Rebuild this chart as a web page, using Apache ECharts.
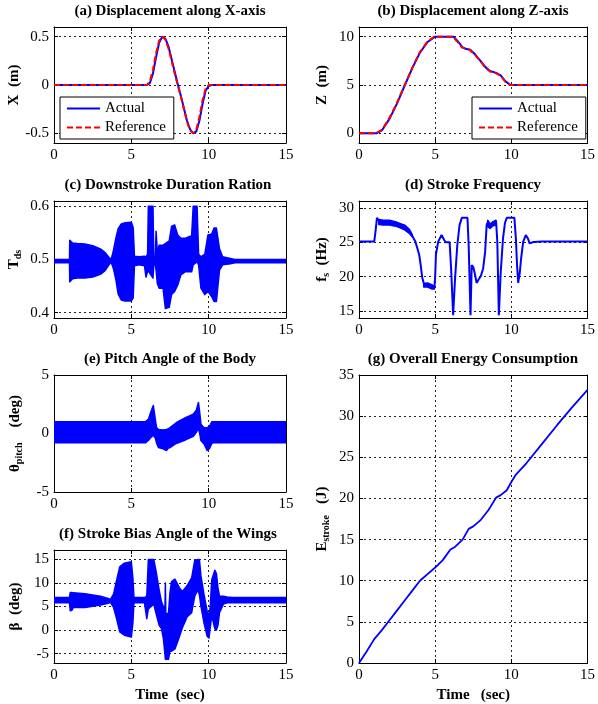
<!DOCTYPE html>
<html>
<head>
<meta charset="utf-8">
<script src="https://cdn.jsdelivr.net/npm/echarts@6/dist/echarts.min.js"></script>
<style>
  html, body { margin: 0; padding: 0; background: #fff; }
  #chart { width: 598px; height: 704px; }
</style>
</head>
<body>
<div id="chart"></div>
<script>
// ---- data: [time (s), value] ----
const xActual = [[0,0],[6.0,0],[6.2,0.02],[6.4,0.12],[6.6,0.29],[6.8,0.44],[7.0,0.5],[7.2,0.48],[7.4,0.40],[7.6,0.27],[7.8,0.14],[8.0,0.01],[8.2,-0.11],[8.4,-0.24],[8.6,-0.37],[8.8,-0.46],[9.0,-0.5],[9.2,-0.48],[9.4,-0.37],[9.6,-0.2],[9.8,-0.06],[10.0,-0.01],[10.2,0],[15,0]];
const xReference = [[0,0],[6.0,0],[6.2,0.04],[6.4,0.16],[6.6,0.33],[6.8,0.46],[7.0,0.5],[7.2,0.47],[7.4,0.38],[7.6,0.25],[7.8,0.12],[8.0,0],[8.2,-0.12],[8.4,-0.25],[8.6,-0.38],[8.8,-0.47],[9.0,-0.5],[9.2,-0.46],[9.4,-0.33],[9.6,-0.16],[9.8,-0.04],[10.0,0],[15,0]];

const zActual = [[0,0],[1.15,0],[1.5,0.3],[2.0,1.5],[2.5,3.1],[3.0,4.95],[3.5,6.75],[4.0,8.35],[4.5,9.45],[5.0,10],[6.2,10],[6.5,9.5],[6.8,8.9],[7.0,8.75],[7.3,8.65],[7.6,8.2],[8.0,7.45],[8.3,6.85],[8.6,6.45],[9.0,6.25],[9.3,6.0],[9.6,5.4],[9.9,5.05],[10.05,5.0],[15,5.0]];
const zReference = [[0,0],[1.1,0],[1.5,0.35],[2.0,1.6],[2.5,3.2],[3.0,5.0],[3.5,6.8],[4.0,8.4],[4.5,9.5],[4.95,10],[6.15,10],[6.45,9.5],[6.75,8.9],[7.0,8.75],[7.25,8.65],[7.6,8.15],[8.0,7.4],[8.3,6.8],[8.6,6.4],[9.0,6.2],[9.3,5.95],[9.6,5.35],[9.9,5.0],[15,5.0]];

// oscillating signals given as [time, lower envelope, upper envelope]
const tdsBand = [[0,0.494,0.500],[1.0,0.494,0.500],[1.02,0.458,0.536],[1.2,0.464,0.531],[1.5,0.465,0.530],[2.0,0.465,0.529],[2.5,0.467,0.526],[3.0,0.472,0.520],[3.3,0.479,0.513],[3.55,0.490,0.504],[3.7,0.495,0.500],[3.85,0.482,0.518],[4.0,0.462,0.540],[4.15,0.435,0.558],[4.35,0.424,0.567],[4.6,0.422,0.569],[5.0,0.422,0.570],[5.12,0.428,0.560],[5.2,0.488,0.506],[5.5,0.490,0.505],[5.85,0.488,0.506],[5.95,0.467,0.505],[6.05,0.478,0.510],[6.1,0.478,0.600],[6.4,0.465,0.600],[6.45,0.490,0.505],[6.55,0.490,0.505],[6.6,0.480,0.553],[6.68,0.455,0.515],[6.8,0.446,0.527],[7.05,0.446,0.527],[7.2,0.408,0.530],[7.45,0.410,0.535],[7.6,0.434,0.562],[7.8,0.440,0.565],[8.0,0.452,0.546],[8.2,0.471,0.540],[8.5,0.477,0.540],[8.9,0.477,0.545],[9.0,0.490,0.600],[9.25,0.496,0.600],[9.35,0.490,0.510],[9.5,0.446,0.505],[9.75,0.434,0.510],[9.95,0.440,0.546],[10.2,0.430,0.548],[10.35,0.421,0.559],[10.5,0.421,0.559],[10.7,0.480,0.520],[10.9,0.490,0.505],[11.4,0.492,0.502],[11.7,0.494,0.500],[15,0.494,0.500]];

const fsLine = [[0,25.1],[1.0,25.1],[1.08,26.5],[1.18,28.55],[1.28,28.4],[1.35,27.9],[2.0,27.85],[2.6,27.6],[3.0,27.15],[3.3,26.6],[3.5,25.9],[3.7,25.1],[3.85,24.0],[3.95,23.2],[4.05,21.7],[4.15,19.9],[4.27,18.9],[4.5,18.8],[4.8,18.5],[4.95,18.4],[5.0,20.0],[5.05,23.2],[5.2,25.1],[5.42,26.05],[5.6,25.3],[5.7,25.0],[5.95,25.0],[6.05,21.0],[6.18,14.4],[6.3,19.5],[6.45,24.5],[6.6,27.5],[6.75,28.55],[7.12,28.55],[7.2,24.5],[7.32,14.4],[7.4,21.7],[7.5,21.4],[7.6,20.5],[7.72,19.1],[7.85,19.6],[8.0,20.1],[8.15,21.2],[8.28,23.6],[8.38,27.5],[8.48,28.1],[8.58,27.1],[8.7,27.8],[8.82,27.5],[9.0,28.0],[9.08,25.0],[9.18,14.4],[9.3,20.5],[9.45,25.5],[9.58,27.8],[9.7,28.55],[10.2,28.55],[10.3,25.5],[10.38,21.5],[10.45,19.1],[10.55,20.5],[10.65,22.8],[10.78,25.1],[10.95,26.05],[11.1,25.5],[11.2,24.85],[11.45,25.05],[12,25.1],[15,25.1]];
const fsBandHover = [[1.3,27.6,28.3],[1.6,27.5,28.2],[2.0,27.5,28.2],[2.5,27.3,27.9],[3.0,26.8,27.5],[3.3,26.3,26.9],[3.5,25.8,26.1]];
const fsBandLow = [[4.25,18.5,19.0],[4.5,18.5,19.1],[4.8,18.2,18.8],[4.95,18.2,18.6]];
const fsBandHigh = [[8.45,27.3,28.2],[8.6,27.0,27.6],[8.8,27.4,28.0],[9.0,27.5,28.2]];

const pitchBand = [[0,-0.8,1.0],[5.9,-0.8,1.0],[6.1,-0.6,1.2],[6.25,-0.35,1.8],[6.42,-0.15,2.4],[6.55,-0.4,1.2],[6.63,-0.8,0.5],[6.75,-1.2,0.35],[7.05,-1.3,0.3],[7.27,-1.45,0.35],[7.4,-1.25,0.4],[7.5,-1.2,0.5],[7.9,-0.85,0.92],[8.5,-0.55,1.35],[9.0,-0.25,1.65],[9.2,0.1,2.0],[9.34,0.45,2.65],[9.42,0.0,1.8],[9.5,-0.6,0.8],[9.7,-0.9,0.5],[9.9,-1.45,0.5],[10.05,-1.3,0.6],[10.2,-0.85,1.0],[10.3,-0.8,1.0],[15,-0.8,1.0]];

const betaBand = [[0,5.8,6.9],[1.0,5.8,6.9],[1.05,4.1,8.0],[1.15,4.2,8.0],[1.25,4.8,7.9],[2.0,4.8,7.7],[3.0,5.3,7.2],[3.5,5.7,6.7],[3.65,5.9,6.5],[3.85,4.8,7.6],[4.05,2.4,10.6],[4.25,-0.4,13.4],[4.55,-1.1,14.2],[5.0,-1.5,14.5],[5.1,1.5,11.0],[5.17,5.8,6.9],[5.85,5.8,6.9],[6.0,2.4,7.2],[6.1,4.5,15.0],[6.45,5.5,15.0],[6.6,3.5,12.5],[6.8,1.0,8.5],[6.95,0.3,6.0],[7.07,-1.75,5.0],[7.17,-5.0,3.5],[7.2,-6.2,10.0],[7.23,-6.2,3.5],[7.4,-6.2,3.5],[7.5,-4.5,8.0],[7.6,-4.5,10.3],[7.82,-4.0,10.8],[8.1,-1.5,9.0],[8.3,0.5,8.2],[8.5,2.0,9.0],[8.6,2.8,9.4],[8.9,3.7,11.1],[9.1,7.2,14.8],[9.3,8.5,15.0],[9.4,7.5,15.0],[9.5,5.1,11.5],[9.7,1.5,7.5],[9.9,-1.3,4.0],[10.02,-1.7,3.0],[10.1,0.5,5.0],[10.2,3.0,10.7],[10.4,0.3,12.7],[10.5,0.0,12.0],[10.6,1.0,9.0],[10.7,3.7,7.2],[10.95,5.5,7.2],[11.2,5.8,7.0],[11.5,5.8,6.9],[15,5.8,6.9]];

const energy = [[0,0],[0.5,1.4],[1.0,2.9],[1.5,4.0],[2.0,5.2],[2.5,6.4],[3.0,7.6],[3.5,8.8],[4.0,10.0],[4.5,10.8],[5.0,11.6],[5.5,12.5],[6.0,13.8],[6.3,14.1],[6.8,15.0],[7.2,16.3],[7.5,16.6],[8.0,17.4],[8.5,18.6],[9.0,20.1],[9.3,20.4],[9.7,21.0],[10.0,22.0],[10.3,22.9],[11.0,24.3],[12.0,26.6],[13.0,28.9],[14.0,31.1],[15.0,33.2]];

// ---- tick labels ----
const ticksX = [-0.5, 0, 0.5];
const ticksZ = [0, 5, 10];
const ticksTds = [0.4, 0.5, 0.6];
const ticksFs = [15, 20, 25, 30];
const ticksPitch = [-5, 0, 5];
const ticksBeta = [-5, 0, 5, 10, 15];
const ticksEnergy = [0, 5, 10, 15, 20, 25, 30, 35];
const timeTicks = [0, 5, 10, 15];

const titles = ['(a) Displacement along X-axis', '(b) Displacement along Z-axis', '(c) Downstroke Duration Ration',
  '(d) Stroke Frequency', '(e) Pitch Angle of the Body', '(f) Stroke Bias Angle of the Wings', '(g) Overall Energy Consumption'];

// ---- styling ----
const SERIF = '"Liberation Serif", "Times New Roman", serif';
const BLUE = '#0000ff';
const RED = '#ff0000';
const INK = '#000';

const nameRich = {
  m: { fontFamily: SERIF, fontWeight: 'bold', fontSize: 15, lineHeight: 18, color: INK },
  s: { fontFamily: SERIF, fontWeight: 'bold', fontSize: 10, lineHeight: 8, verticalAlign: 'bottom', color: INK }
};

// panel layout: grid box, y range, ticks, axis label
const panels = [
  { left: 54,  top: 27,  width: 232, height: 116, ymin: -0.6, ymax: 0.6, ticks: ticksX,     name: '{m|X  (m)}',                nameGap: 31, title: [170, 4] },
  { left: 359, top: 27,  width: 231, height: 116, ymin: -1,   ymax: 11,  ticks: ticksZ,     name: '{m|Z  (m)}',                nameGap: 28, title: [473, 4] },
  { left: 54,  top: 201, width: 232, height: 117, ymin: 0.39, ymax: 0.61, ticks: ticksTds,  name: '{m|T}{s|ds}',               nameGap: 31, title: [168, 178] },
  { left: 359, top: 201, width: 231, height: 117, ymin: 14,   ymax: 31,  ticks: ticksFs,    name: '{m|f}{s|s}{m|  (Hz)}',      nameGap: 28, title: [473, 178] },
  { left: 54,  top: 375, width: 232, height: 117, ymin: -5,   ymax: 5,   ticks: ticksPitch, name: '{m|θ}{s|pitch}{m|    (deg)}', nameGap: 30, title: [170, 352] },
  { left: 54,  top: 550, width: 232, height: 116, ymin: -7,   ymax: 17,  ticks: ticksBeta,  name: '{m|β  (deg)}',              nameGap: 30, title: [168, 527], xName: 'Time  (sec)' },
  { left: 359, top: 375, width: 231, height: 291, ymin: 0,    ymax: 35,  ticks: ticksEnergy, name: '{m|E}{s|stroke}{m|   (J)}', nameGap: 28, title: [473, 352], xName: 'Time   (sec)' }
];

const gridLine = { show: true, lineStyle: { color: '#222', type: [2, 3], width: 1 } };
const frameLine = { show: true, onZero: false, lineStyle: { color: INK, width: 1 } };
const tickStyle = { show: true, inside: true, length: 4, lineStyle: { color: INK, width: 1 } };
const labelStyle = { color: INK, fontFamily: SERIF, fontSize: 15, margin: 5 };

const grid = [], xAxis = [], yAxis = [], title = [];
panels.forEach((p, i) => {
  grid.push({ left: p.left, top: p.top, width: p.width, height: p.height, containLabel: false });
  title.push({ text: titles[i], left: p.title[0], top: p.title[1], textAlign: 'center', padding: 0,
    textStyle: { fontFamily: SERIF, fontWeight: 'bold', fontSize: 15, color: INK } });

  xAxis.push({
    gridIndex: i, type: 'value', position: 'bottom', min: 0, max: 15,
    axisLine: frameLine,
    axisTick: Object.assign({}, tickStyle, { customValues: timeTicks }),
    axisLabel: Object.assign({}, labelStyle, { customValues: timeTicks }),
    splitLine: gridLine,
    name: p.xName || '', nameLocation: 'middle', nameGap: 25,
    nameTextStyle: { fontFamily: SERIF, fontWeight: 'bold', fontSize: 15, color: INK }
  });
  xAxis.push({
    gridIndex: i, type: 'value', position: 'top', min: 0, max: 15,
    axisLine: frameLine,
    axisTick: Object.assign({}, tickStyle, { customValues: timeTicks }),
    axisLabel: { show: false }, splitLine: { show: false }
  });

  yAxis.push({
    gridIndex: i, type: 'value', position: 'left', min: p.ymin, max: p.ymax,
    axisLine: frameLine,
    axisTick: Object.assign({}, tickStyle, { customValues: p.ticks }),
    axisLabel: Object.assign({}, labelStyle, { customValues: p.ticks }),
    splitLine: gridLine,
    name: p.name, nameLocation: 'middle', nameGap: p.nameGap, nameRotate: 90,
    nameTextStyle: { rich: nameRich }
  });
  yAxis.push({
    gridIndex: i, type: 'value', position: 'right', min: p.ymin, max: p.ymax,
    axisLine: frameLine,
    axisTick: Object.assign({}, tickStyle, { customValues: p.ticks }),
    axisLabel: { show: false }, splitLine: { show: false }
  });
});

// filled envelope between lower and upper curves of an oscillating signal
function bandSeries(i, band) {
  return {
    type: 'custom', xAxisIndex: 2 * i, yAxisIndex: 2 * i, clip: true, silent: true,
    data: [[band[0][0], band[0][1]]],
    renderItem: function (params, api) {
      const upper = band.map(d => api.coord([d[0], d[2]]));
      const lower = band.slice().reverse().map(d => api.coord([d[0], d[1]]));
      return {
        type: 'polygon',
        shape: { points: upper.concat(lower) },
        style: { fill: BLUE, stroke: BLUE, lineWidth: 1.5, lineJoin: 'round' }
      };
    }
  };
}

function lineSeries(i, name, data, color, width, type) {
  return {
    type: 'line', name: name, xAxisIndex: 2 * i, yAxisIndex: 2 * i, data: data,
    symbol: 'none', showSymbol: false, smooth: false, silent: true,
    lineStyle: { color: color, width: width, type: type || 'solid' },
    itemStyle: { color: color }
  };
}

const series = [
  lineSeries(0, 'Actual', xActual, BLUE, 2),
  lineSeries(0, 'Reference', xReference, RED, 2, [6, 3]),
  lineSeries(1, 'Actual', zActual, BLUE, 2),
  lineSeries(1, 'Reference', zReference, RED, 2, [6, 3]),
  bandSeries(2, tdsBand),
  bandSeries(3, fsBandHover),
  bandSeries(3, fsBandLow),
  bandSeries(3, fsBandHigh),
  lineSeries(3, 'fs', fsLine, BLUE, 2),
  bandSeries(4, pitchBand),
  bandSeries(5, betaBand),
  lineSeries(6, 'E', energy, BLUE, 1.8)
];

// legend keeps the line sample only (marker hidden)
function legendAt(left) {
  return {
    left: left, top: 97, orient: 'vertical', data: ['Actual', 'Reference'],
    backgroundColor: '#fff', borderColor: INK, borderWidth: 1, borderRadius: 0,
    padding: [4, 8, 4, 6], itemGap: 4, itemWidth: 33, itemHeight: 14,
    selectedMode: false,
    itemStyle: { color: 'rgba(0,0,0,0)', borderColor: 'rgba(0,0,0,0)', borderWidth: 0 },
    textStyle: { fontFamily: SERIF, fontSize: 15, color: INK }
  };
}

const chart = echarts.init(document.getElementById('chart'), null, { renderer: 'canvas' });
chart.setOption({
  animation: false,
  backgroundColor: '#fff',
  title: title,
  legend: [legendAt(60), legendAt(472)],
  grid: grid,
  xAxis: xAxis,
  yAxis: yAxis,
  series: series
});
</script>
</body>
</html>
